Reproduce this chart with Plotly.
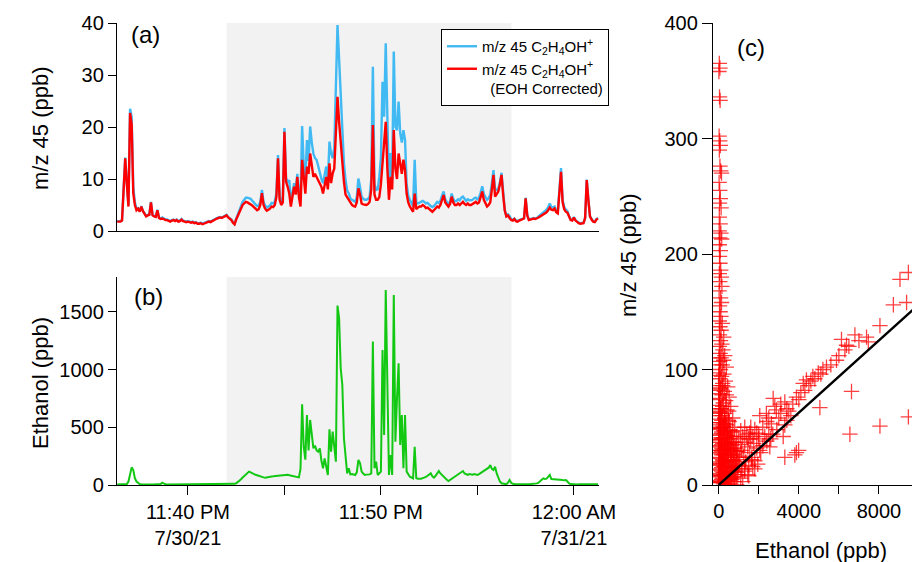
import pandas as pd
import plotly.graph_objects as go

# ---------------- data ----------------
t_start = "2021-07-30 23:36:20"
n_pts = 300
times = pd.date_range(t_start, periods=n_pts, freq="5s")

mz45_raw = [
    1.9,1.9,1.9,2.1,8.1,14.1,9.1,5.0,23.5,21.9,
    8.5,5.5,4.3,4.4,3.8,4.8,3.9,3.3,2.9,3.1,
    3.2,5.6,3.1,2.9,2.8,4.1,2.6,2.4,2.6,2.4,
    2.2,2.2,2.0,1.9,2.1,2.2,2.0,2.2,1.9,2.0,
    2.3,2.0,1.9,1.8,1.9,1.8,1.7,1.8,1.6,1.7,
    1.5,1.5,1.6,1.4,1.5,1.6,1.8,1.9,1.8,2.0,
    2.1,2.4,2.5,2.6,2.7,2.6,2.8,2.9,3.1,2.7,
    2.4,2.2,1.7,1.4,2.4,3.2,3.9,4.6,5.6,6.0,
    6.4,6.4,6.3,6.2,5.8,5.4,5.0,4.8,4.9,5.6,
    7.9,5.6,4.9,4.5,4.7,4.9,5.4,5.3,5.7,7.2,
    14.6,6.7,5.7,6.2,19.8,10.2,9.3,9.8,5.5,7.2,
    9.2,7.7,11.0,7.1,6.0,20.2,12.5,9.5,17.5,13.5,
    20.1,17.0,14.9,14.0,13.7,12.5,11.1,10.0,9.2,10.5,
    12.4,9.5,17.2,14.9,14.0,16.0,28.0,39.6,33.0,25.5,
    20.5,13.0,9.8,7.8,7.2,6.3,6.0,5.8,5.6,6.5,
    10.1,8.5,6.6,6.2,6.0,6.0,6.2,6.6,10.0,31.6,
    9.0,7.9,8.0,10.4,14.0,28.7,22.0,36.1,20.0,8.0,
    15.0,10.0,34.5,20.0,19.4,24.9,18.8,17.0,19.4,17.5,
    9.0,6.8,6.0,5.3,4.7,13.7,5.5,5.3,5.5,5.6,
    5.8,5.6,5.3,5.4,5.0,4.8,4.6,4.8,5.2,5.6,
    5.4,5.8,6.8,7.6,6.1,5.5,5.1,5.7,7.2,6.2,
    5.7,5.8,6.1,5.9,6.4,6.6,6.1,5.8,6.1,5.9,
    5.9,6.0,6.3,6.4,6.1,6.4,7.4,8.6,7.1,6.4,
    6.0,6.3,7.0,9.2,11.7,8.0,7.9,8.1,9.3,11.2,
    7.1,4.1,2.9,3.2,2.9,2.3,2.1,2.4,2.0,1.9,
    2.1,2.2,2.3,2.5,6.4,3.1,2.2,2.3,2.4,2.5,
    2.4,2.5,2.8,3.1,3.4,3.6,3.8,4.1,4.6,5.3,
    4.6,4.5,4.7,4.0,3.8,8.5,12.1,5.9,4.6,4.1,
    3.8,2.9,2.2,2.1,2.7,2.1,1.8,1.6,1.5,1.6,
    1.6,2.6,9.9,6.1,2.9,2.3,1.9,1.8,2.3,2.5,
]

mz45_corr = [
    1.8,1.8,1.8,2.0,8.0,14.0,9.0,4.7,22.7,20.5,
    7.3,5.0,4.0,4.3,3.7,4.7,3.8,3.2,2.8,3.0,
    3.1,5.5,3.0,2.8,2.7,4.0,2.5,2.3,2.4,2.3,
    2.1,2.1,1.9,1.8,2.0,2.1,1.9,2.1,1.8,1.9,
    2.2,1.9,1.8,1.7,1.8,1.7,1.6,1.7,1.5,1.6,
    1.4,1.4,1.5,1.3,1.4,1.5,1.7,1.8,1.7,1.9,
    2.0,2.3,2.4,2.5,2.6,2.5,2.7,2.8,3.0,2.6,
    2.3,2.1,1.6,1.3,2.2,3.0,3.6,4.2,5.0,5.3,
    5.6,5.5,5.3,5.2,4.9,4.6,4.2,4.0,4.2,5.0,
    7.3,5.0,4.3,3.9,4.1,4.3,4.7,4.6,5.0,6.5,
    14.0,6.0,5.0,5.5,19.1,9.5,8.5,7.2,4.7,6.5,
    8.5,7.0,10.4,6.5,4.7,13.7,9.5,7.2,12.4,11.0,
    14.9,13.0,10.4,11.0,10.4,9.5,9.2,8.5,7.2,8.5,
    10.4,8.0,13.0,9.2,11.1,12.0,20.0,25.8,21.0,16.5,
    13.0,9.5,7.0,6.5,6.0,5.3,5.0,4.8,4.7,5.5,
    8.2,7.0,5.3,5.1,5.0,5.0,5.2,5.6,8.0,20.4,
    7.0,6.0,6.0,6.5,9.0,13.0,16.0,21.0,12.0,6.0,
    10.4,8.0,19.4,12.0,10.0,14.9,13.0,11.0,13.7,11.7,
    7.2,5.5,4.7,4.2,3.7,7.2,4.2,4.5,4.7,4.7,
    5.0,4.8,4.4,4.5,4.2,3.9,3.7,4.0,4.4,4.7,
    4.5,5.0,6.0,6.9,5.5,5.0,4.7,5.2,6.6,5.5,
    5.0,5.0,5.3,5.0,5.4,5.6,5.2,5.0,5.3,5.0,
    5.0,5.2,5.4,5.6,5.3,5.5,6.5,7.6,6.0,5.2,
    4.7,5.0,5.5,8.0,10.8,6.6,7.0,7.6,9.0,10.8,
    7.0,4.0,2.8,3.0,2.5,2.1,2.0,2.3,1.9,1.8,
    2.0,2.1,2.2,2.4,6.3,3.0,2.1,2.2,2.3,2.4,
    2.3,2.4,2.6,2.8,3.0,3.1,3.3,3.6,4.0,4.5,
    4.1,4.0,4.3,3.6,3.4,8.0,11.4,5.5,4.2,3.7,
    3.5,2.8,2.1,2.0,2.6,2.0,1.7,1.5,1.4,1.5,
    1.5,2.5,9.8,6.0,2.8,2.2,1.8,1.7,2.2,2.4,
]

ethanol = [
    5,5,5,6,5,6,8,30,87,153,
    130,60,30,15,9,7,6,5,5,6,
    5,6,5,5,6,5,6,8,20,10,
    6,5,5,4,5,6,5,5,4,5,
    5,6,5,4,5,5,6,5,5,5,
    4,5,6,5,5,6,6,5,6,7,
    6,7,8,7,8,8,9,8,9,10,
    8,8,9,10,15,25,38,50,65,80,
    95,105,116,110,100,93,88,85,80,72,
    68,66,64,68,70,72,74,75,77,78,
    79,80,82,81,84,86,88,85,82,79,
    76,72,68,66,140,700,330,220,607,300,
    564,462,318,341,300,289,318,210,145,231,
    150,87,483,289,462,318,202,1555,1445,1011,
    867,405,246,101,145,92,95,92,87,110,
    217,190,116,100,87,90,88,92,100,1243,
    145,202,87,100,116,1170,433,1690,780,87,
    260,87,1647,376,751,1055,347,607,145,607,
    116,90,72,65,58,332,58,55,52,55,
    60,64,70,80,95,101,75,64,80,100,
    121,100,85,72,55,45,35,45,55,64,
    70,80,87,100,110,121,100,90,87,95,
    92,90,95,88,87,95,105,116,125,135,
    145,150,173,140,130,159,100,58,30,15,
    10,8,6,20,43,20,10,9,8,7,
    7,6,6,6,7,6,7,8,8,9,
    12,14,20,30,45,58,52,55,70,87,
    52,50,48,45,43,44,45,43,42,43,
    30,14,8,6,6,6,5,6,6,5,
    6,6,5,6,6,5,6,5,6,6,
]

assert len(mz45_raw) == n_pts and len(mz45_corr) == n_pts and len(ethanol) == n_pts

# panel (c) scatter: ethanol (ppb) vs m/z 45 (ppb)
col_eth = [30,60,10,40,70,20,50,80,30,60,100,140,20,50,80,40,120,30,70,20,110,50,150,30,80,
           40,60,100,30,130,50,160,20,90,140,40,70,110,30,180,60,120,40,250,90,160,30,210,70,300,
           120,50,180,380,90,20,260,140]
col_mz = [365,361,358,336,333,302,298,294,290,276,272,270,262,255,248,244,240,232,226,220,218,214,213,208,203,
          198,192,186,183,180,176,172,168,162,158,155,150,146,142,140,137,134,130,128,125,122,120,117,114,112,
          110,107,104,102,100,97,96,94]

mid_eth = [60,330,200,20,450,110,280,40,170,520,80,350,230,30,600,130,410,60,290,180,700,20,480,100,340,
           220,800,50,560,150,400,260,30,650,120,900,480]
mid_mz = [92,90,88,86,85,83,81,79,78,76,74,73,71,69,68,66,65,63,62,60,58,57,56,54,53,
          51,50,49,48,46,45,44,43,42,41,42,40]

low_eth = [0,80,200,350,550,750,1000,1200,1400,40,150,300,450,650,850,1100,1300,1600,
           20,120,250,400,600,800,950,1150,1450,1750,60,180,320,500,700,900,1050,1250,1550,1900,
           0,100,230,380,560,760,1000,1350,1650,2050,40,150,280,440,640,850,1150,1500,1800,2200,
           10,90,200,330,500,720,950,1300,1700,2400,30,120,260,420,600,800,1100,1450,1950,
           50,10,250,0,0,10,300,380,500,700,1100,1300,1550,1800,2000,2300,2500,2600,1650,2100,1300]
low_mz = [39,37,36,35,36,37,40,42,44,33,32,31,30,31,32,35,37,40,
          28,27,26,25,26,27,29,30,33,36,23,22,21,20,21,22,24,25,28,32,
          18,17,16,15,15,16,18,20,24,30,13,12,11,10,11,12,14,17,21,34,
          8,7,6,5,5,7,9,12,16,38,3,2,1,0,1,3,6,9,18,
          50,60,47,75,95,110,57,78,64,46,47,50,45,48,44,42,44,40,22,28,14]

dense_eth = [0,150,300,450,600,750,900,0,150,300,450,600,750,900,0,150,300,450,600,750,
             0,150,300,450,600,0,150,300,450,0,150,300,0,100,200,0,100,200,50,250,
             80,220,360,520,680,840,70,210,350,490,630,60,190,330,470,110,260,410,90,240,
             20,120,240,380,520,660,800,30,130,260,400,540,680,820,960,10,110,220,350,480,
             610,740,880,20,140,270,400,530,660,40,170,300,430,560,0,130,260,390,520,60]
dense_mz = [4,5,4,6,7,9,11,14,15,16,17,19,21,24,24,26,27,28,30,32,
            34,35,36,38,40,44,45,46,47,54,56,58,64,66,68,82,84,86,104,108,
            10,11,12,13,15,17,20,21,22,24,26,30,31,33,35,40,41,43,52,53,
            2,3,2,3,4,5,7,9,8,9,10,11,12,14,16,19,18,19,20,22,
            24,26,29,30,29,30,32,34,37,39,40,41,43,46,48,49,50,52,55,62]

branch_eth = [2050,2380,2720,2880,2630,3300,3300,3700,3880,4300,4220,4380,4700,4970,5380,5880,6300,6130,6380,
              6800,7380,7470,8050,8720,9380,9050,9470,3220,2550,3000,3100,3500,3600,4000,4100,4500,4600,4800,
              5100,5200,5600,6000,6500,7000,2800,2500,2200,1900,1700,1500,1600,2900,3400,2000,2700,3400,3100,2400]
branch_mz = [60,62,75,65,53,72,52,70,76,82,88,91,94,97,102,108,117,126,121,
             130,128,124,138,156,158,178,184,42,33,58,62,64,60,74,80,86,90,92,
             96,100,104,112,120,125,68,58,50,45,42,40,50,48,56,40,44,66,70,55]

outlier_eth = [6630,5050,6550,8050,9470,3300,3880,3990,3800,1200,1500,1800,900]
outlier_mz = [81,67,44,51,59,24,28,30,26,3,8,14,0]

fit_eth = [0, 10000]
fit_mz = [0, 156.4]

scatter_eth = col_eth + mid_eth + low_eth + dense_eth + branch_eth + outlier_eth
scatter_mz = col_mz + mid_mz + low_mz + dense_mz + branch_mz + outlier_mz
assert len(scatter_eth) == len(scatter_mz)

shade_t0 = "2021-07-30 23:42:00"
shade_t1 = "2021-07-30 23:56:46"
x_range = ["2021-07-30 23:36:19.4", "2021-07-31 00:01:18.1"]
time_tickvals = ["2021-07-30 23:40:00", "2021-07-30 23:50:00", "2021-07-31 00:00:00"]
time_ticktext = ["11:40 PM<br>7/30/21", "11:50 PM", "12:00 AM<br>7/31/21"]

# ---------------- figure ----------------
W, H = 912, 562
FONT = "Liberation Sans, Arial, Helvetica, sans-serif"

def px_x(p):
    return p / W

def px_y(p):
    return (H - p) / H

fig = go.Figure()

fig.add_trace(go.Scatter(x=times, y=mz45_raw, mode="lines", xaxis="x", yaxis="y",
                         line=dict(color="#41B9F2", width=2.4),
                         name="m/z 45 C<sub>2</sub>H<sub>4</sub>OH<sup>+</sup>"))
fig.add_trace(go.Scatter(x=times, y=mz45_corr, mode="lines", xaxis="x", yaxis="y",
                         line=dict(color="#FF0000", width=2.4),
                         name="m/z 45 C<sub>2</sub>H<sub>4</sub>OH<sup>+</sup><br>\u00a0\u00a0(EOH Corrected)"))
fig.add_trace(go.Scatter(x=times, y=ethanol, mode="lines", xaxis="x2", yaxis="y2",
                         line=dict(color="#12C812", width=2.0), showlegend=False))
fig.add_trace(go.Scatter(x=scatter_eth, y=scatter_mz, mode="markers", xaxis="x3", yaxis="y3",
                         marker=dict(symbol="cross-thin", size=11,
                                     line=dict(width=1.3, color="rgba(255,0,0,0.75)")),
                         showlegend=False))
fig.add_trace(go.Scatter(x=fit_eth, y=fit_mz, mode="lines", xaxis="x3", yaxis="y3",
                         line=dict(color="black", width=2.4), showlegend=False))

axis_common = dict(showline=True, linecolor="black", linewidth=1.3, showgrid=False,
                   zeroline=False, ticks="outside", ticklen=8, tickwidth=1.3, tickcolor="black",
                   automargin=False,
                   tickfont=dict(family=FONT, size=20, color="black"))

xdom = [px_x(117), px_x(599)]
fig.update_layout(
    template="none",
    width=W, height=H,
    margin=dict(l=0, r=0, t=0, b=0, pad=0),
    paper_bgcolor="white", plot_bgcolor="white",
    font=dict(family=FONT, color="black"),
    xaxis=dict(axis_common, domain=xdom, anchor="y", type="date", range=x_range,
               ticks="", showticklabels=False),
    yaxis=dict(axis_common, domain=[px_y(231), px_y(23)], anchor="x", range=[0, 40],
               tickvals=[0, 10, 20, 30, 40]),
    xaxis2=dict(axis_common, domain=xdom, anchor="y2", type="date", range=x_range,
                tickmode="array", tickvals=time_tickvals, ticktext=time_ticktext, ticklen=9,
                minor=dict(ticks="outside", ticklen=9, tickwidth=1.3, tickcolor="black",
                           dtick=300000, tick0="2021-07-30 23:40:00", showgrid=False)),
    yaxis2=dict(axis_common, domain=[px_y(485), px_y(277)], anchor="x2", range=[0, 1803],
                tickvals=[0, 500, 1000, 1500]),
    xaxis3=dict(axis_common, domain=[px_x(713), 1.0], anchor="y3", range=[-285, 9650],
                tickmode="linear", tick0=0, dtick=4000,
                minor=dict(ticks="outside", ticklen=8, tickwidth=1.3, tickcolor="black",
                           dtick=2000, tick0=0, showgrid=False)),
    yaxis3=dict(axis_common, domain=[px_y(485), px_y(23)], anchor="x3", range=[0, 400],
                tickvals=[0, 100, 200, 300, 400], ticklen=10),
    legend=dict(x=px_x(441), y=px_y(29), xanchor="left", yanchor="top",
                bgcolor="white", bordercolor="black", borderwidth=1,
                font=dict(family=FONT, size=15, color="black"), valign="top",
                tracegroupgap=0),
    shapes=[
        dict(type="rect", xref="x", yref="y domain", x0=shade_t0, x1=shade_t1, y0=0, y1=1,
             fillcolor="#F2F2F2", line=dict(width=0), layer="below"),
        dict(type="rect", xref="x2", yref="y2 domain", x0=shade_t0, x1=shade_t1, y0=0, y1=1,
             fillcolor="#F2F2F2", line=dict(width=0), layer="below"),
    ],
)

ann_font = dict(family=FONT, size=22, color="black")
lab_font = dict(family=FONT, size=24, color="black")
annotations = [
    dict(text="m/z 45 (ppb)", x=px_x(40), y=px_y(128), textangle=-90, font=ann_font),
    dict(text="Ethanol (ppb)", x=px_x(40), y=px_y(383), textangle=-90, font=ann_font),
    dict(text="m/z 45 (ppb)", x=px_x(628), y=px_y(255), textangle=-90, font=ann_font),
    dict(text="Ethanol (ppb)", x=px_x(821), y=px_y(550), font=ann_font),
    dict(text="(a)", x=px_x(145), y=px_y(35), font=lab_font),
    dict(text="(b)", x=px_x(148), y=px_y(296), font=lab_font),
    dict(text="(c)", x=px_x(751), y=px_y(48), font=lab_font),
]
for a in annotations:
    a.update(xref="paper", yref="paper", showarrow=False, xanchor="center", yanchor="middle")
fig.update_layout(annotations=annotations)

fig.write_html("out.html",
               config={"displayModeBar": False},
               post_script="document.body.style.margin='0px';document.body.style.overflow='hidden';")
